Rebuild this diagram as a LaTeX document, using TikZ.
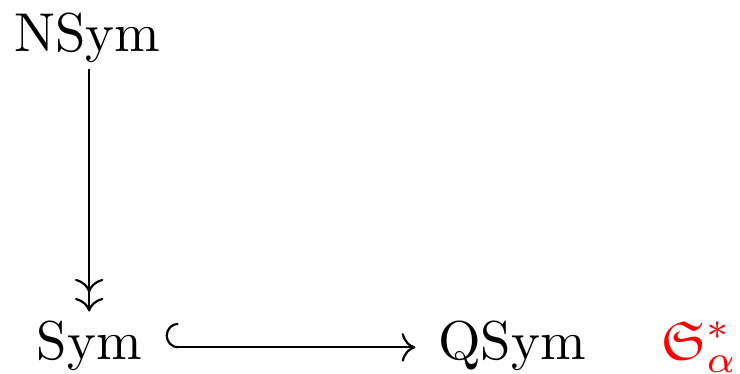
\documentclass[tikz,border=0pt]{standalone}
\usepackage{amsmath,amssymb}
\usetikzlibrary{arrows.meta}

\begin{document}
\begin{tikzpicture}[x=1pt, y=1pt, >={Computer Modern Rightarrow}, line join=round, line cap=round]
    \useasboundingbox (0,0) rectangle (135.3,68.2);
    \node[anchor=base, inner sep=1pt] (nsym) at (15.9,58.7) {NSym};
    \node[anchor=base, inner sep=1pt] (sym) at (16.3,2.5) {Sym};
    \node[anchor=base, inner sep=1pt] (qsym) at (93.6,2.5) {QSym};
    \node[anchor=base, inner sep=1pt, red] (frak) at (127.9,2.5) {$\mathfrak{S}^*_\alpha$};
    \draw[-{Computer Modern Rightarrow[sep=1pt] Computer Modern Rightarrow[]}, shorten >=0.5pt] (nsym.south -| sym) -- (sym.north);
    \draw[{Hooks[right, width=9pt, length=2.3pt]}->, shorten <=3.2pt, shorten >=3pt] ([yshift=-0.3pt]sym.east) -- ([yshift=-0.3pt]qsym.west);
\end{tikzpicture}
\end{document}
